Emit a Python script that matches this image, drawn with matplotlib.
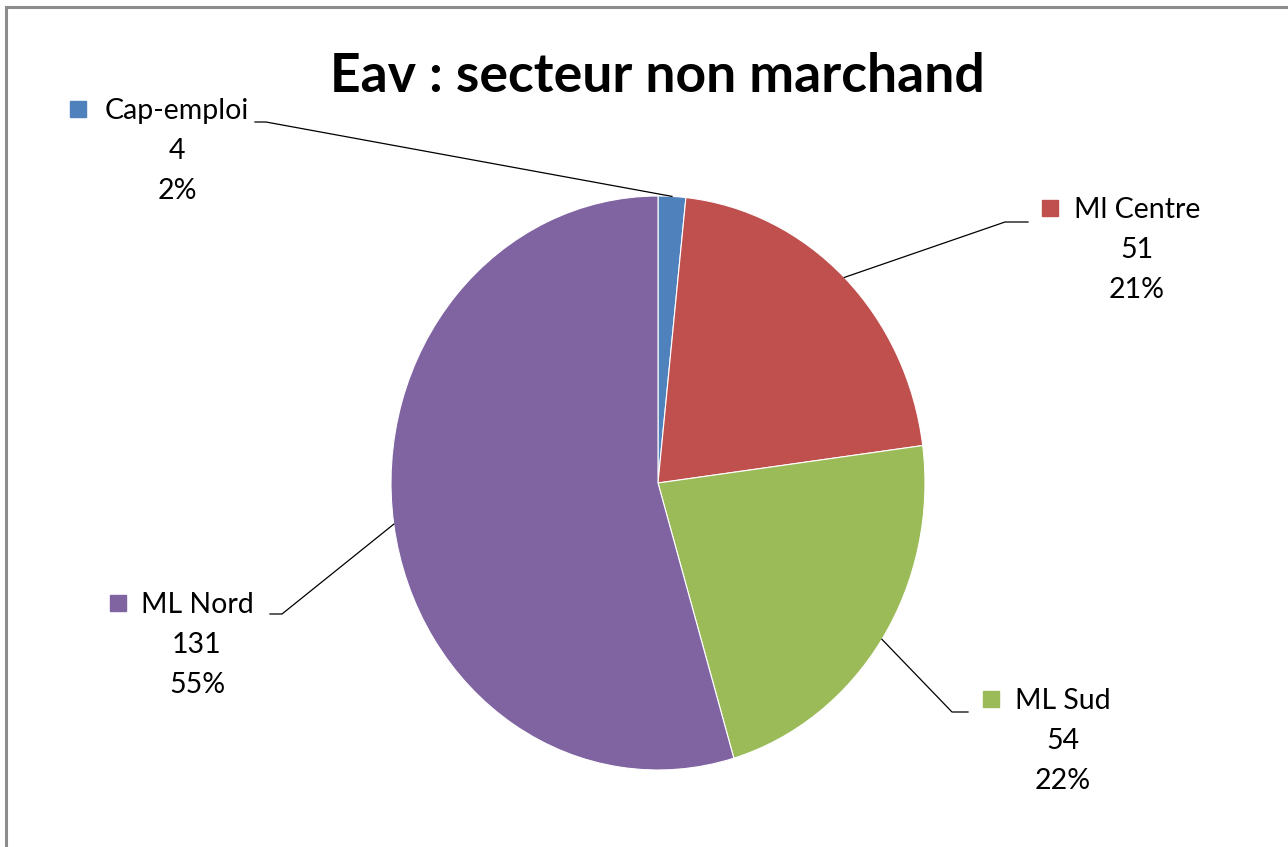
import matplotlib
matplotlib.use("Agg")
import matplotlib.pyplot as plt
from matplotlib.patches import Rectangle
import numpy as np

# ---- data ----
categories = ["Cap-emploi", "Ml Centre", "ML Sud", "ML Nord"]
values = [4, 51, 54, 131]
percent_labels = ["2%", "21%", "22%", "55%"]
colors = ["#4F81BD", "#C0504D", "#9BBB59", "#8064A2"]
title = "Eav : secteur non marchand"

W, H = 1288, 847
CX, CY, RX, RY = 658, 483, 267, 287

def dx(px):
    return (px - CX) / RX

def dy(py):
    return (CY - py) / RY

fig = plt.figure(figsize=(W / 100, H / 100), dpi=100)
ax = fig.add_axes([0, 0, 1, 1])
wedges, _ = ax.pie(values, colors=colors, startangle=90, counterclock=False,
                   radius=1, center=(0, 0), normalize=True,
                   wedgeprops=dict(linewidth=0.8, edgecolor="white"))
ax.set_aspect("auto")
ax.set_xlim(dx(0), dx(W))
ax.set_ylim(dy(H), dy(0))
ax.axis("off")

# frame (top and left visible)
fig.patches.append(Rectangle((6 / W, -0.05), 1.1, (H - 7) / H + 0.05,
                             transform=fig.transFigure, fill=False,
                             edgecolor="#8C8C8C", linewidth=2.2))

fig.text(657 / W, 1 - 76 / H, title, ha="center", va="center",
         fontsize=38.5, fontweight="bold", family="Lato")

# label layout (pixel positions): text center x, first-line y, square x, stub end, elbow
layout = [
    dict(tx=177, ty=111, sq=78, stub=(255, 122), elbow=(266, 122)),
    dict(tx=1137, ty=210, sq=1050, stub=(1028, 222), elbow=(1005, 222)),
    dict(tx=1063, ty=701, sq=991, stub=(968, 712), elbow=(952, 712)),
    dict(tx=197, ty=605, sq=118, stub=(270, 614), elbow=(282, 614)),
]

for w, name, val, pct, col, L in zip(wedges, categories, values, percent_labels, colors, layout):
    theta = np.deg2rad((w.theta1 + w.theta2) / 2)
    ex, ey = np.cos(theta), np.sin(theta)
    ax.plot([dx(L["stub"][0]), dx(L["elbow"][0]), ex],
            [dy(L["stub"][1]), dy(L["elbow"][1]), ey],
            color="black", linewidth=0.9, clip_on=False)
    ax.plot([dx(L["sq"])], [dy(L["ty"] - 2)], marker="s", markersize=11,
            color=col, linestyle="none", clip_on=False)
    for i, s in enumerate([name, str(val), pct]):
        ax.text(dx(L["tx"]), dy(L["ty"] + 40 * i), s, ha="center", va="center",
                fontsize=20.5, family="Lato", color="black")

fig.savefig("out.png", dpi=100)
